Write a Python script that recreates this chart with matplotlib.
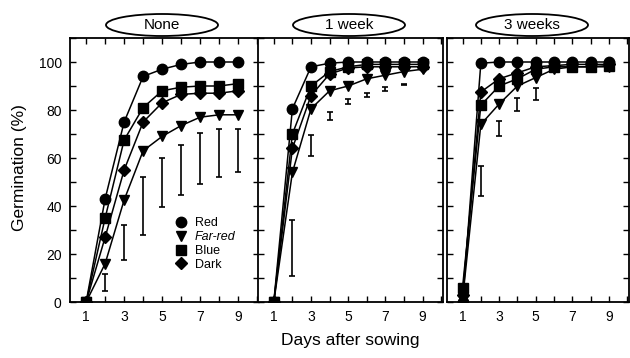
import numpy as np
import matplotlib
matplotlib.use("Agg")
import matplotlib.pyplot as plt
from matplotlib.patches import Ellipse
from matplotlib.ticker import MultipleLocator

plt.rcParams['font.family'] = ['Liberation Sans', 'DejaVu Sans']

days = [1, 2, 3, 4, 5, 6, 7, 8, 9]
panels = ["None", "1 week", "3 weeks"]
labels = ["Red", "Far-red", "Blue", "Dark"]
markers = ["o", "v", "s", "D"]

# germination (%) per panel: red, far-red, blue, dark
none_red = [0, 43, 75, 94, 97, 99, 100, 100, 100]
none_far = [0, 16, 42.5, 63, 69, 73.5, 77, 78, 78]
none_blue = [0, 35, 67.5, 81, 88, 89.5, 90, 90, 91]
none_dark = [0, 27, 55, 75, 83, 86.5, 87, 87, 88]

wk1_red = [0, 80.5, 98, 99.5, 100, 100, 100, 100, 100]
wk1_far = [0, 54, 80.5, 88, 90, 93, 94.5, 96, 97]
wk1_blue = [0, 70, 90, 96, 98, 99, 99, 99, 99]
wk1_dark = [0, 64, 86, 95, 97.5, 98, 98, 98, 98]

wk3_red = [0, 99.5, 100, 100, 100, 100, 100, 100, 100]
wk3_far = [1, 74, 82.5, 90, 93.5, 97, 98, 98, 98]
wk3_blue = [6, 82, 90, 93, 97, 98, 98, 98, 98.5]
wk3_dark = [3, 87.5, 93, 95.5, 98, 98.5, 99, 99, 99]

# separate error bars (low, high)
none_err_x = [2, 3, 4, 5, 6, 7, 8, 9]
none_err_lo = [4.5, 17.5, 28, 39.5, 44.5, 49, 52, 54]
none_err_hi = [11.5, 32, 52, 60, 65.5, 70.5, 72, 72]
wk1_err_x = [2, 3, 4, 5, 6, 7, 8]
wk1_err_lo = [11, 61, 76, 82.5, 85.5, 88, 90.5]
wk1_err_hi = [34, 69.5, 79, 84.5, 87, 89.5, 91]
wk3_err_x = [2, 3, 4, 5]
wk3_err_lo = [44, 69, 79.5, 84]
wk3_err_hi = [56.5, 75.5, 85, 89]

series = [
    [none_red, none_far, none_blue, none_dark],
    [wk1_red, wk1_far, wk1_blue, wk1_dark],
    [wk3_red, wk3_far, wk3_blue, wk3_dark],
]
errs = [
    (none_err_x, none_err_lo, none_err_hi),
    (wk1_err_x, wk1_err_lo, wk1_err_hi),
    (wk3_err_x, wk3_err_lo, wk3_err_hi),
]

W, H = 630, 358
fig = plt.figure(figsize=(W / 100, H / 100), dpi=100)

boxes = [(70, 189), (258, 185), (447, 182)]
top_px, bot_px = 38, 302
ell_cx = [162, 349, 532]

for i, (left, width) in enumerate(boxes):
    ax = fig.add_axes([left / W, (H - bot_px) / H, width / W, (bot_px - top_px) / H])
    for ys, m, lab in zip(series[i], markers, labels):
        ms = 6.5 if m == "D" else 7.5
        ax.plot(days, ys, color="black", lw=1.1, marker=m, ms=ms, label=lab)
    ex, lo, hi = errs[i]
    lo = np.array(lo)
    hi = np.array(hi)
    ax.errorbar(ex, (lo + hi) / 2, yerr=(hi - lo) / 2, fmt="none",
                ecolor="black", elinewidth=1.2, capsize=2.5, capthick=1.2)
    ax.set_xlim(0.15, 10.1)
    ax.set_ylim(0, 110)
    ax.xaxis.set_major_locator(MultipleLocator(2, offset=1))
    ax.xaxis.set_minor_locator(MultipleLocator(1))
    ax.yaxis.set_major_locator(MultipleLocator(20))
    ax.yaxis.set_minor_locator(MultipleLocator(10))
    ax.tick_params(which="both", direction="in", top=True, right=True,
                   labelsize=10, width=1, pad=6)
    ax.tick_params(which="major", length=4)
    ax.tick_params(which="minor", length=4)
    for sp in ax.spines.values():
        sp.set_linewidth(1.3)
    if i > 0:
        ax.set_yticklabels([])
    else:
        leg = ax.legend(loc="upper left", bbox_to_anchor=(0.52, 0.345),
                        frameon=False, handlelength=1, handletextpad=0.6,
                        labelspacing=0.15, borderpad=0, fontsize=9)
        for h in leg.legend_handles:
            h.set_linestyle("none")
        leg.get_texts()[1].set_fontstyle("italic")

    e = Ellipse((ell_cx[i] / W, 1 - 25 / H), 112 / W, 22 / H,
                transform=fig.transFigure, facecolor="white",
                edgecolor="black", lw=1.3)
    fig.patches.append(e)
    fig.text(ell_cx[i] / W, 1 - 25 / H, panels[i], ha="center", va="center",
             fontsize=11)

fig.text(350 / W, 1 - 340 / H, "Days after sowing", ha="center", va="center",
         fontsize=12.5)
fig.text(20 / W, 1 - 168 / H, "Germination (%)", ha="center", va="center",
         rotation=90, fontsize=12.5)

fig.savefig("out.png", dpi=100)
